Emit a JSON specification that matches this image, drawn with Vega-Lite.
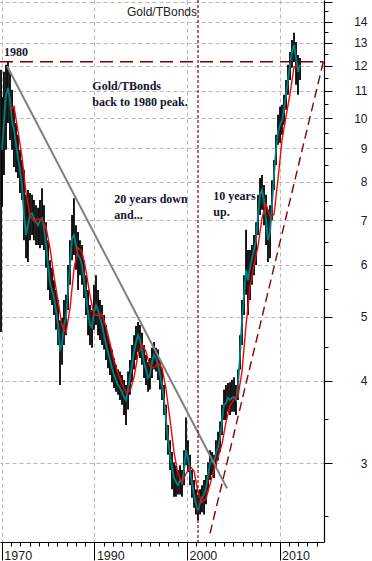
{
  "$schema": "https://vega.github.io/schema/vega-lite/v6.json",
  "width": 324,
  "height": 542,
  "autosize": {"type": "none"},
  "padding": {"left": 0, "top": 0, "right": 48, "bottom": 19},
  "background": "white",
  "config": {"view": {"stroke": null}, "font": "Liberation Sans"},
  "title": {"text": "Gold/TBonds", "offset": -23, "fontSize": 12, "font": "Liberation Sans", "fontWeight": "normal", "color": "#222222", "anchor": "middle", "frame": "group"},
  "datasets": {
    "px": [
      {"t":1979.91,"h":11.83,"l":4.74},
      {"t":1980.02,"h":10.77,"l":7.33,"c":8.95},
      {"t":1980.23,"h":11.75,"l":8.20,"c":9.93},
      {"t":1980.45,"h":12.04,"l":8.95,"c":10.84},
      {"t":1980.66,"h":12.16,"l":9.83,"c":11.11},
      {"t":1980.88,"h":11.75,"l":9.26,"c":10.65},
      {"t":1981.10,"h":11.04,"l":8.95,"c":9.93},
      {"t":1981.31,"h":10.40,"l":8.43,"c":9.60},
      {"t":1981.53,"h":9.83,"l":8.28,"c":9.11},
      {"t":1981.74,"h":9.43,"l":8.11,"c":8.70},
      {"t":1981.96,"h":8.95,"l":7.70,"c":8.35},
      {"t":1982.18,"h":8.64,"l":7.51,"c":7.92},
      {"t":1982.39,"h":8.35,"l":6.53,"c":7.13},
      {"t":1982.61,"h":7.65,"l":6.13,"c":6.65},
      {"t":1982.82,"h":7.78,"l":6.05,"c":6.88},
      {"t":1983.04,"h":7.70,"l":6.53,"c":7.13},
      {"t":1983.26,"h":7.65,"l":6.65,"c":7.18},
      {"t":1983.47,"h":7.51,"l":6.53,"c":7.05},
      {"t":1983.69,"h":7.38,"l":6.42,"c":6.95},
      {"t":1983.91,"h":7.31,"l":6.42,"c":6.88},
      {"t":1984.12,"h":7.51,"l":6.35,"c":7.00},
      {"t":1984.34,"h":7.83,"l":6.42,"c":7.05},
      {"t":1984.55,"h":7.38,"l":6.31,"c":6.81},
      {"t":1984.77,"h":6.95,"l":5.93,"c":6.42},
      {"t":1984.99,"h":6.53,"l":5.49,"c":5.99},
      {"t":1985.20,"h":6.09,"l":5.30,"c":5.62},
      {"t":1985.42,"h":5.93,"l":5.21,"c":5.49},
      {"t":1985.63,"h":5.68,"l":5.03,"c":5.34},
      {"t":1985.85,"h":5.49,"l":4.78,"c":5.12},
      {"t":1986.07,"h":5.30,"l":4.53,"c":4.86},
      {"t":1986.28,"h":4.94,"l":3.94,"c":4.46},
      {"t":1986.50,"h":4.98,"l":4.23,"c":4.53},
      {"t":1986.71,"h":5.30,"l":4.53,"c":4.86},
      {"t":1986.93,"h":5.40,"l":4.69,"c":4.98},
      {"t":1987.15,"h":5.99,"l":5.12,"c":5.49},
      {"t":1987.36,"h":6.53,"l":5.59,"c":5.99},
      {"t":1987.58,"h":7.13,"l":6.09,"c":6.58},
      {"t":1987.79,"h":7.56,"l":6.20,"c":6.65},
      {"t":1988.01,"h":6.88,"l":5.89,"c":6.42},
      {"t":1988.23,"h":6.72,"l":5.49,"c":6.20},
      {"t":1988.44,"h":6.53,"l":5.78,"c":6.13},
      {"t":1988.66,"h":6.42,"l":5.59,"c":5.99},
      {"t":1988.87,"h":6.09,"l":5.34,"c":5.68},
      {"t":1989.09,"h":5.78,"l":5.03,"c":5.40},
      {"t":1989.31,"h":5.49,"l":4.69,"c":5.08},
      {"t":1989.52,"h":5.21,"l":4.53,"c":4.86},
      {"t":1989.74,"h":5.12,"l":4.49,"c":4.82},
      {"t":1989.95,"h":5.59,"l":4.78,"c":5.08},
      {"t":1990.17,"h":5.78,"l":4.86,"c":5.21},
      {"t":1990.39,"h":5.49,"l":4.69,"c":5.12},
      {"t":1990.60,"h":5.30,"l":4.61,"c":4.98},
      {"t":1990.82,"h":5.21,"l":4.53,"c":4.86},
      {"t":1991.04,"h":5.03,"l":4.46,"c":4.69},
      {"t":1991.25,"h":4.86,"l":4.30,"c":4.53},
      {"t":1991.47,"h":4.69,"l":4.18,"c":4.42},
      {"t":1991.68,"h":4.56,"l":4.08,"c":4.30},
      {"t":1991.90,"h":4.46,"l":3.98,"c":4.18},
      {"t":1992.12,"h":4.33,"l":3.90,"c":4.08},
      {"t":1992.33,"h":4.23,"l":3.85,"c":4.01},
      {"t":1992.55,"h":4.16,"l":3.81,"c":3.94},
      {"t":1992.76,"h":4.13,"l":3.74,"c":3.90},
      {"t":1992.98,"h":4.08,"l":3.68,"c":3.85},
      {"t":1993.20,"h":4.01,"l":3.55,"c":3.78},
      {"t":1993.41,"h":3.94,"l":3.43,"c":3.74},
      {"t":1993.63,"h":4.13,"l":3.62,"c":3.88},
      {"t":1993.84,"h":4.30,"l":3.81,"c":4.05},
      {"t":1994.06,"h":4.53,"l":3.98,"c":4.23},
      {"t":1994.28,"h":4.69,"l":4.16,"c":4.42},
      {"t":1994.49,"h":4.84,"l":4.30,"c":4.58},
      {"t":1994.71,"h":4.91,"l":4.42,"c":4.69},
      {"t":1994.92,"h":4.86,"l":4.33,"c":4.61},
      {"t":1995.14,"h":4.73,"l":4.23,"c":4.46},
      {"t":1995.36,"h":4.53,"l":4.04,"c":4.27},
      {"t":1995.57,"h":4.38,"l":3.94,"c":4.16},
      {"t":1995.79,"h":4.27,"l":3.85,"c":4.04},
      {"t":1996.00,"h":4.33,"l":3.88,"c":4.08},
      {"t":1996.22,"h":4.49,"l":4.04,"c":4.27},
      {"t":1996.44,"h":4.58,"l":4.16,"c":4.38},
      {"t":1996.65,"h":4.49,"l":4.13,"c":4.33},
      {"t":1996.87,"h":4.46,"l":4.01,"c":4.23},
      {"t":1997.08,"h":4.30,"l":3.88,"c":4.08},
      {"t":1997.30,"h":4.18,"l":3.74,"c":3.94},
      {"t":1997.52,"h":3.94,"l":3.55,"c":3.74},
      {"t":1997.73,"h":3.68,"l":3.25,"c":3.49},
      {"t":1997.95,"h":3.43,"l":3.09,"c":3.25},
      {"t":1998.17,"h":3.25,"l":2.93,"c":3.09},
      {"t":1998.38,"h":3.12,"l":2.74,"c":2.95},
      {"t":1998.60,"h":3.01,"l":2.67,"c":2.85},
      {"t":1998.81,"h":2.98,"l":2.67,"c":2.81},
      {"t":1999.03,"h":2.93,"l":2.69,"c":2.78},
      {"t":1999.25,"h":2.98,"l":2.69,"c":2.83},
      {"t":1999.46,"h":2.93,"l":2.67,"c":2.80},
      {"t":1999.68,"h":3.14,"l":2.78,"c":2.93},
      {"t":1999.89,"h":3.52,"l":2.98,"c":3.14},
      {"t":2000.11,"h":3.25,"l":2.91,"c":3.05},
      {"t":2000.33,"h":3.09,"l":2.78,"c":2.93},
      {"t":2000.54,"h":2.93,"l":2.66,"c":2.80},
      {"t":2000.76,"h":2.83,"l":2.57,"c":2.69},
      {"t":2000.97,"h":2.74,"l":2.51,"c":2.60},
      {"t":2001.19,"h":2.69,"l":2.46,"c":2.55},
      {"t":2001.41,"h":2.74,"l":2.51,"c":2.61},
      {"t":2001.62,"h":2.78,"l":2.53,"c":2.66},
      {"t":2001.84,"h":2.83,"l":2.51,"c":2.69},
      {"t":2002.05,"h":2.88,"l":2.60,"c":2.75},
      {"t":2002.27,"h":3.01,"l":2.72,"c":2.88},
      {"t":2002.49,"h":3.14,"l":2.83,"c":3.00},
      {"t":2002.70,"h":3.12,"l":2.88,"c":3.03},
      {"t":2002.92,"h":3.09,"l":2.85,"c":3.01},
      {"t":2003.13,"h":3.25,"l":2.95,"c":3.11},
      {"t":2003.35,"h":3.35,"l":3.03,"c":3.17},
      {"t":2003.57,"h":3.47,"l":3.12,"c":3.27},
      {"t":2003.78,"h":3.68,"l":3.31,"c":3.49},
      {"t":2004.00,"h":3.88,"l":3.49,"c":3.68},
      {"t":2004.21,"h":3.94,"l":3.49,"c":3.70},
      {"t":2004.43,"h":3.97,"l":3.59,"c":3.77},
      {"t":2004.65,"h":3.98,"l":3.55,"c":3.74},
      {"t":2004.86,"h":4.01,"l":3.59,"c":3.77},
      {"t":2005.08,"h":4.05,"l":3.59,"c":3.78},
      {"t":2005.29,"h":3.94,"l":3.55,"c":3.74},
      {"t":2005.51,"h":4.16,"l":3.74,"c":3.94},
      {"t":2005.73,"h":4.69,"l":4.16,"c":4.38},
      {"t":2005.94,"h":5.30,"l":4.53,"c":4.94},
      {"t":2006.16,"h":5.78,"l":5.03,"c":5.40},
      {"t":2006.38,"h":6.77,"l":5.40,"c":5.89},
      {"t":2006.59,"h":6.31,"l":5.03,"c":5.68},
      {"t":2006.81,"h":6.31,"l":5.30,"c":5.93},
      {"t":2007.02,"h":6.42,"l":5.59,"c":6.13},
      {"t":2007.24,"h":6.65,"l":5.78,"c":6.31},
      {"t":2007.46,"h":6.95,"l":5.99,"c":6.53},
      {"t":2007.67,"h":7.65,"l":6.65,"c":7.13},
      {"t":2007.89,"h":8.11,"l":7.13,"c":7.65},
      {"t":2008.10,"h":8.20,"l":7.26,"c":7.78},
      {"t":2008.32,"h":7.92,"l":6.88,"c":7.51},
      {"t":2008.54,"h":7.65,"l":6.42,"c":7.00},
      {"t":2008.75,"h":7.26,"l":6.05,"c":6.53},
      {"t":2008.97,"h":7.38,"l":6.13,"c":6.72},
      {"t":2009.18,"h":8.05,"l":7.00,"c":7.38},
      {"t":2009.40,"h":8.64,"l":7.78,"c":8.20},
      {"t":2009.62,"h":9.43,"l":8.49,"c":8.95},
      {"t":2009.83,"h":10.11,"l":9.11,"c":9.53},
      {"t":2010.05,"h":10.40,"l":9.17,"c":9.76},
      {"t":2010.26,"h":10.47,"l":9.43,"c":9.93},
      {"t":2010.48,"h":10.84,"l":9.76,"c":10.29},
      {"t":2010.70,"h":11.42,"l":10.29,"c":10.84},
      {"t":2010.91,"h":12.04,"l":10.84,"c":11.42},
      {"t":2011.13,"h":12.59,"l":11.42,"c":12.04},
      {"t":2011.34,"h":13.13,"l":11.91,"c":12.59},
      {"t":2011.56,"h":13.46,"l":12.16,"c":12.91},
      {"t":2011.78,"h":13.04,"l":11.23,"c":12.33},
      {"t":2011.99,"h":12.46,"l":10.84,"c":11.75},
      {"t":2012.21,"h":12.33,"l":11.42,"c":12.04}
    ],
    "ma": [
      {"t":1980.88,"m":10.27},{"t":1981.31,"m":10.41},{"t":1981.74,"m":9.57},{"t":1982.18,"m":8.71},
      {"t":1982.61,"m":7.71},{"t":1983.04,"m":7.13},{"t":1983.47,"m":6.97},{"t":1983.91,"m":7.04},
      {"t":1984.34,"m":6.99},{"t":1984.77,"m":6.83},{"t":1985.20,"m":6.36},{"t":1985.63,"m":5.76},
      {"t":1986.07,"m":5.28},{"t":1986.50,"m":4.85},{"t":1986.93,"m":4.73},{"t":1987.36,"m":5.15},
      {"t":1987.79,"m":5.90},{"t":1988.23,"m":6.36},{"t":1988.66,"m":6.27},{"t":1989.09,"m":5.87},
      {"t":1989.52,"m":5.39},{"t":1989.95,"m":5.04},{"t":1990.39,"m":5.02},{"t":1990.82,"m":5.05},
      {"t":1991.25,"m":4.83},{"t":1991.68,"m":4.56},{"t":1992.12,"m":4.30},{"t":1992.55,"m":4.10},
      {"t":1992.98,"m":3.96},{"t":1993.41,"m":3.84},{"t":1993.84,"m":3.86},{"t":1994.28,"m":4.05},
      {"t":1994.71,"m":4.39},{"t":1995.14,"m":4.55},{"t":1995.57,"m":4.43},{"t":1996.00,"m":4.20},
      {"t":1996.44,"m":4.18},{"t":1996.87,"m":4.26},{"t":1997.30,"m":4.19},{"t":1997.73,"m":3.89},
      {"t":1998.17,"m":3.49},{"t":1998.60,"m":3.12},{"t":1999.03,"m":2.89},{"t":1999.46,"m":2.81},
      {"t":1999.89,"m":2.89},{"t":2000.33,"m":2.97},{"t":2000.76,"m":2.92},{"t":2001.19,"m":2.71},
      {"t":2001.62,"m":2.62},{"t":2002.05,"m":2.65},{"t":2002.49,"m":2.79},{"t":2002.92,"m":2.93},
      {"t":2003.35,"m":3.06},{"t":2003.78,"m":3.21},{"t":2004.21,"m":3.46},{"t":2004.65,"m":3.67},
      {"t":2005.08,"m":3.75},{"t":2005.51,"m":3.79},{"t":2005.94,"m":4.13},{"t":2006.38,"m":4.86},
      {"t":2006.81,"m":5.55},{"t":2007.24,"m":5.98},{"t":2007.67,"m":6.39},{"t":2008.10,"m":7.05},
      {"t":2008.54,"m":7.41},{"t":2008.97,"m":7.09},{"t":2009.40,"m":7.14},{"t":2009.83,"m":8.09},
      {"t":2010.26,"m":9.25},{"t":2010.70,"m":10.06},{"t":2011.13,"m":10.88},{"t":2011.56,"m":11.94},
      {"t":2011.99,"m":12.05}
    ],
    "downtrend": [{"t":1980.56,"v":11.99},{"t":2004.32,"v":2.75}],
    "uptrend": [{"t":2002.49,"v":2.35},{"t":2014.73,"v":12.17}],
    "peakline": [{"t":1979.8,"v":12.17},{"t":2014.73,"v":12.17}],
    "marker": [{"t":2001.19}],
    "notes": [
      {"t":1980.23,"v":12.40,"txt":"1980"},
      {"t":1989.77,"v":11.04,"txt":"Gold/TBonds\nback to 1980 peak."},
      {"t":1992.15,"v":7.43,"txt":"20 years down\nand..."},
      {"t":2002.84,"v":7.51,"txt":"10 years\nup."}
    ]
  },
  "layer": [
    {
      "data": {"name": "px"},
      "mark": {"type": "rule", "color": "#000000", "strokeWidth": 1.8},
      "encoding": {
        "x": {"field": "t", "type": "quantitative",
          "scale": {"domain": [1979.8, 2014.8], "nice": false, "zero": false},
          "axis": {"orient": "bottom", "title": null, "values": [1980, 1990, 2000, 2010], "format": "d",
            "labelExpr": "datum.value == 1980 ? '1970' : datum.label",
            "tickSize": 18, "tickColor": "#000000", "tickWidth": 1,
            "domainColor": "#000000", "domainWidth": 1.2,
            "labelAlign": "left", "labelBaseline": "top", "labelPadding": -11, "labelOffset": 2,
            "labelFont": "Liberation Sans", "labelFontSize": 12.5, "labelColor": "#1a1a1a",
            "labelFlush": false, "labelOverlap": false, "labelBound": false,
            "grid": true, "gridColor": "#b8b8b8", "gridDash": [4, 3], "gridWidth": 1}},
        "y": {"field": "l", "type": "quantitative",
          "scale": {"type": "log", "domain": [2.28, 15.09], "nice": false, "zero": false},
          "axis": {"orient": "right", "title": null, "values": [3, 4, 5, 6, 7, 8, 9, 10, 11, 12, 13, 14, 15], "format": "d",
            "labelExpr": "datum.value >= 15 ? '' : datum.label",
            "tickSize": 8, "tickColor": "#000000", "tickWidth": 1,
            "domainColor": "#000000", "domainWidth": 1.2,
            "labelAlign": "right", "labelBaseline": "middle", "labelPadding": 35,
            "labelFont": "Liberation Sans", "labelFontSize": 12, "labelColor": "#1a1a1a",
            "labelFlush": false, "labelOverlap": false, "labelBound": false,
            "grid": true, "gridColor": "#b8b8b8", "gridDash": [4, 3], "gridWidth": 1}},
        "y2": {"field": "h"}
      }
    },
    {
      "data": {"name": "px"},
      "mark": {"type": "line", "color": "#008080", "strokeWidth": 1.8, "interpolate": "linear"},
      "encoding": {
        "x": {"field": "t", "type": "quantitative",
          "scale": {"domain": [1979.8, 2014.8], "nice": false, "zero": false},
          "axis": {"orient": "bottom", "title": null, "labels": false, "domain": false, "grid": false,
            "values": [1981, 1982, 1983, 1984, 1985, 1986, 1987, 1988, 1989, 1991, 1992, 1993, 1994, 1995, 1996, 1997, 1998, 1999, 2001, 2002, 2003, 2004, 2005, 2006, 2007, 2008, 2009, 2011, 2012, 2013, 2014],
            "tickSize": 4, "tickColor": "#000000", "tickWidth": 1}},
        "y": {"field": "c", "type": "quantitative",
          "scale": {"type": "log", "domain": [2.28, 15.09], "nice": false, "zero": false},
          "axis": {"orient": "right", "title": null, "labels": false, "domain": false, "grid": false,
            "values": [2.5, 3.5, 4.5, 5.5, 6.5, 7.5, 8.5, 9.5, 10.5, 11.5, 12.5, 13.5, 14.5],
            "tickSize": 4, "tickColor": "#000000", "tickWidth": 1}}
      }
    },
    {
      "data": {"name": "ma"},
      "mark": {"type": "line", "color": "#ff0000", "strokeWidth": 1.4, "interpolate": "linear"},
      "encoding": {
        "x": {"field": "t", "type": "quantitative", "scale": {"domain": [1979.8, 2014.8], "nice": false, "zero": false}, "axis": null},
        "y": {"field": "m", "type": "quantitative", "scale": {"type": "log", "domain": [2.28, 15.09], "nice": false, "zero": false}, "axis": null}
      }
    },
    {
      "data": {"name": "downtrend"},
      "mark": {"type": "line", "color": "#808080", "strokeWidth": 2},
      "encoding": {
        "x": {"field": "t", "type": "quantitative", "scale": {"domain": [1979.8, 2014.8], "nice": false, "zero": false}, "axis": null},
        "y": {"field": "v", "type": "quantitative", "scale": {"type": "log", "domain": [2.28, 15.09], "nice": false, "zero": false}, "axis": null}
      }
    },
    {
      "data": {"name": "uptrend"},
      "mark": {"type": "line", "color": "#8b0000", "strokeWidth": 1.4, "strokeDash": [9, 5]},
      "encoding": {
        "x": {"field": "t", "type": "quantitative", "scale": {"domain": [1979.8, 2014.8], "nice": false, "zero": false}, "axis": null},
        "y": {"field": "v", "type": "quantitative", "scale": {"type": "log", "domain": [2.28, 15.09], "nice": false, "zero": false}, "axis": null}
      }
    },
    {
      "data": {"name": "peakline"},
      "mark": {"type": "line", "color": "#7a0000", "strokeWidth": 1.5, "strokeDash": [13, 7]},
      "encoding": {
        "x": {"field": "t", "type": "quantitative", "scale": {"domain": [1979.8, 2014.8], "nice": false, "zero": false}, "axis": null},
        "y": {"field": "v", "type": "quantitative", "scale": {"type": "log", "domain": [2.28, 15.09], "nice": false, "zero": false}, "axis": null}
      }
    },
    {
      "data": {"name": "marker"},
      "mark": {"type": "rule", "color": "#8b0000", "strokeWidth": 1.2, "strokeDash": [3, 2]},
      "encoding": {
        "x": {"field": "t", "type": "quantitative", "scale": {"domain": [1979.8, 2014.8], "nice": false, "zero": false}, "axis": null}
      }
    },
    {
      "data": {"name": "notes"},
      "mark": {"type": "text", "align": "left", "baseline": "alphabetic", "font": "Liberation Serif", "fontWeight": "bold", "fontSize": 12, "color": "#14142e", "lineBreak": "\n", "lineHeight": 16},
      "encoding": {
        "x": {"field": "t", "type": "quantitative", "scale": {"domain": [1979.8, 2014.8], "nice": false, "zero": false}, "axis": null},
        "y": {"field": "v", "type": "quantitative", "scale": {"type": "log", "domain": [2.28, 15.09], "nice": false, "zero": false}, "axis": null},
        "text": {"field": "txt", "type": "nominal"}
      }
    }
  ],
  "resolve": {"axis": {"x": "independent", "y": "independent"}}
}
